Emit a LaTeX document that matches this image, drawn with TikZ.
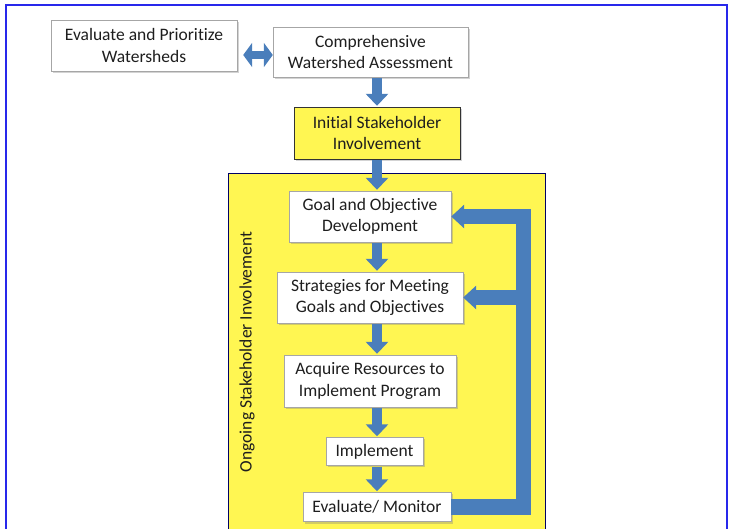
\documentclass[tikz,border=0pt]{standalone}
\usepackage{fontspec}
\setmainfont[Ligatures={NoCommon}]{Carlito}
\usetikzlibrary{arrows.meta,shadows}

\definecolor{flowblue}{RGB}{74,126,187}
\definecolor{panelyellow}{RGB}{255,246,82}
\definecolor{textgray}{RGB}{30,30,30}
\definecolor{framblue}{RGB}{40,40,235}

\begin{document}
\begin{tikzpicture}[
  x=1pt, y=-1pt,
  every node/.style = {
    font=\fontsize{17.5}{21.5}\selectfont,
    text=textgray
  },
  stepbox/.style = {
    draw=gray!70,
    shape=rectangle,
    fill=white,
    align=center,
    inner sep=0pt,
    drop shadow={opacity=0.35, shadow xshift=2pt, shadow yshift=-2pt}
  },
  keybox/.style = {
    stepbox,
    draw=black!80,
    fill=panelyellow
  },
  down/.style = {
    draw=flowblue,
    line width=10pt,
    -{Triangle[width=22pt,length=12pt]},
    shorten <=1pt,
    shorten >=1pt
  },
  back/.style = {
    draw=flowblue,
    line width=15pt,
    line join=miter,
    -{Triangle[width=23pt,length=13pt]}
  },
  %both/.style = {draw=flowblue, line width=8pt},
]
  \useasboundingbox (0,0) rectangle (729,529);
  \clip (0,0) rectangle (729,529);

  % frame and panel
  \draw[framblue, line width=2pt] (6,5) rectangle (727,560);
  \node (panel)[
    draw=black!60!blue,
    fill=panelyellow,
    inner sep=0pt,
    minimum width=317pt,
    minimum height=380pt,
    anchor=north west
  ] at (228,173) {};
  \node (ongoing)[rotate=90] at (247,352) {Ongoing Stakeholder Involvement};

  % top row
  \node (evalprio)[
    stepbox,
    minimum width=186pt,
    minimum height=51pt
  ] at (144,45.5) {Evaluate and Prioritize\\Watersheds};
  \node (assess)[
    stepbox,
    minimum width=195pt,
    minimum height=50pt
  ] at (370.5,52) {Comprehensive\\Watershed Assessment};
  \node (initial)[
    keybox,
    minimum width=166pt,
    minimum height=52pt
  ] at (377,133) {Initial Stakeholder\\Involvement};

  % steps inside the panel
  \node (goal)[
    stepbox,
    minimum width=162pt,
    minimum height=51pt
  ] at (370,216.5) {Goal and Objective\\Development};
  \node (strategies)[
    stepbox,
    minimum width=186pt,
    minimum height=51pt
  ] at (370,297.5) {Strategies for Meeting\\Goals and Objectives};
  \node (acquire)[
    stepbox,
    minimum width=172pt,
    minimum height=52pt
  ] at (370,381) {Acquire Resources to\\Implement Program};
  \node (implement)[
    stepbox,
    minimum width=97pt,
    minimum height=28pt
  ] at (374.5,451.5) {Implement};
  \node (evalmon)[
    stepbox,
    minimum width=148pt,
    minimum height=29pt
  ] at (377,507) {Evaluate/ Monitor};
  \coordinate (loop) at (523,0);

  \draw[
    draw=flowblue,
    line width=8pt,
    {Triangle[width=24pt,length=9pt]}-{Triangle[width=24pt,length=9pt]}
  ] (evalprio.east |- 0,55) ++(6,0) -- (assess.west |- 0,55);

  \draw[down] (assess.south -| initial)     -- (initial.north);
  \draw[down] (initial.south)               -- (goal.north -| initial);
  \draw[down] (goal.south -| initial)       -- (strategies.north -| initial);
  \draw[down] (strategies.south -| initial) -- (acquire.north -| initial);
  \draw[down] (acquire.south -| initial)    -- (implement.north -| initial);
  \draw[down] (implement.south -| initial)  -- (evalmon.north);

  \draw[back] (evalmon.east) -| (loop |- goal.east) -- (goal.east);
  \draw[back] (loop |- strategies.east) -- (strategies.east);
\end{tikzpicture}
\end{document}
